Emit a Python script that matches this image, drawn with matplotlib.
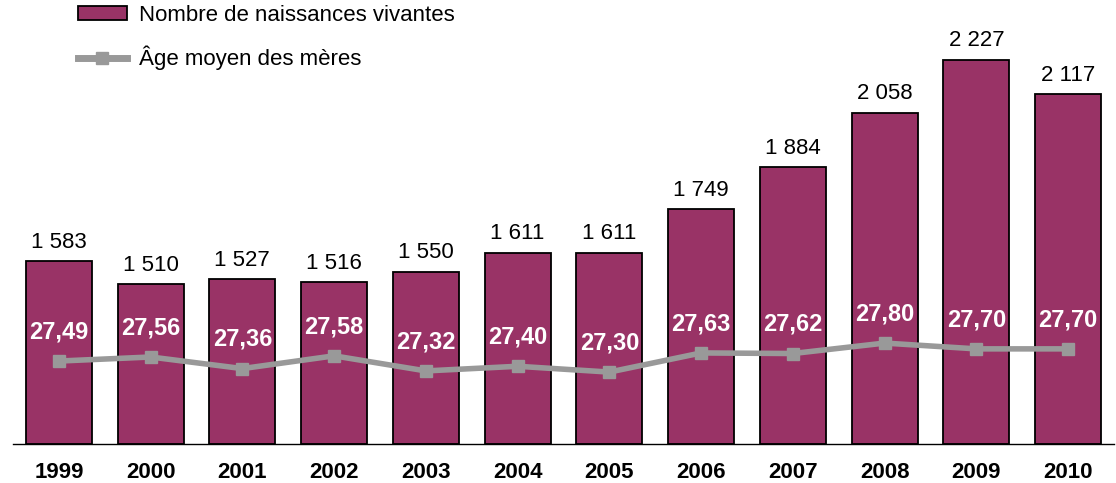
import matplotlib
matplotlib.use("Agg")
import matplotlib.pyplot as plt
from matplotlib.patches import Patch
from matplotlib.lines import Line2D

# Données
annees = ["1999", "2000", "2001", "2002", "2003", "2004",
          "2005", "2006", "2007", "2008", "2009", "2010"]
naissances = [1583, 1510, 1527, 1516, 1550, 1611, 1611, 1749, 1884, 2058, 2227, 2117]
age_meres = [27.49, 27.56, 27.36, 27.58, 27.32, 27.40, 27.30, 27.63, 27.62, 27.80, 27.70, 27.70]

plt.rcParams['font.family'] = ['Liberation Sans', 'DejaVu Sans']

W, H = 1116, 483
fig = plt.figure(figsize=(W / 100, H / 100), dpi=100)
# position des axes en pixels
left, right, bottom, top = 13, 1114, 444, 20
ax = fig.add_axes([left / W, (H - bottom) / H, (right - left) / W, (bottom - top) / H])

x = range(len(annees))
couleur_barre = '#993366'
couleur_ligne = '#999999'

barres = ax.bar(x, [v - 1000 for v in naissances], bottom=1000, width=0.72,
                color=couleur_barre, edgecolor='black', linewidth=1.3, zorder=2)
ax.bar_label(barres, labels=[f"{v:,}".replace(",", " ") for v in naissances],
             padding=6, fontsize=16, color='black')

ax.set_xlim(-0.5, len(annees) - 0.5)
ax.set_ylim(1000, 2354)
ax.set_xticks(list(x))
ax.set_xticklabels(annees, fontsize=16, fontweight='bold')
ax.tick_params(axis='x', length=0, pad=13)
ax.set_yticks([])
for s in ['left', 'right', 'top']:
    ax.spines[s].set_visible(False)
ax.spines['bottom'].set_linewidth(1.0)

# axe secondaire pour l'âge moyen
ax2 = ax.twinx()
ax2.plot(list(x), age_meres, color=couleur_ligne, linewidth=4, marker='s',
         markersize=9, zorder=3)
for i, v in enumerate(age_meres):
    ax2.annotate(f"{v:.2f}".replace(".", ","), (i, v), xytext=(0, 21),
                 textcoords='offset points', ha='center', va='center',
                 fontsize=17, fontweight='bold', color='white')
ax2.set_ylim(26.06, 33.37)
ax2.set_yticks([])
for s in ax2.spines.values():
    s.set_visible(False)

# légende
poignees = [Patch(facecolor=couleur_barre, edgecolor='black', linewidth=1.3),
            Line2D([0], [0], color=couleur_ligne, linewidth=5, marker='s', markersize=9)]
fig.legend(poignees, ["Nombre de naissances vivantes", "Âge moyen des mères"],
           loc='upper left', bbox_to_anchor=(78 / W, 1 - 5 / H), frameon=False,
           fontsize=16, handlelength=2.2, handleheight=0.55, handletextpad=0.55,
           labelspacing=0.9, borderpad=0, borderaxespad=0)

fig.savefig("out.png", dpi=100)
